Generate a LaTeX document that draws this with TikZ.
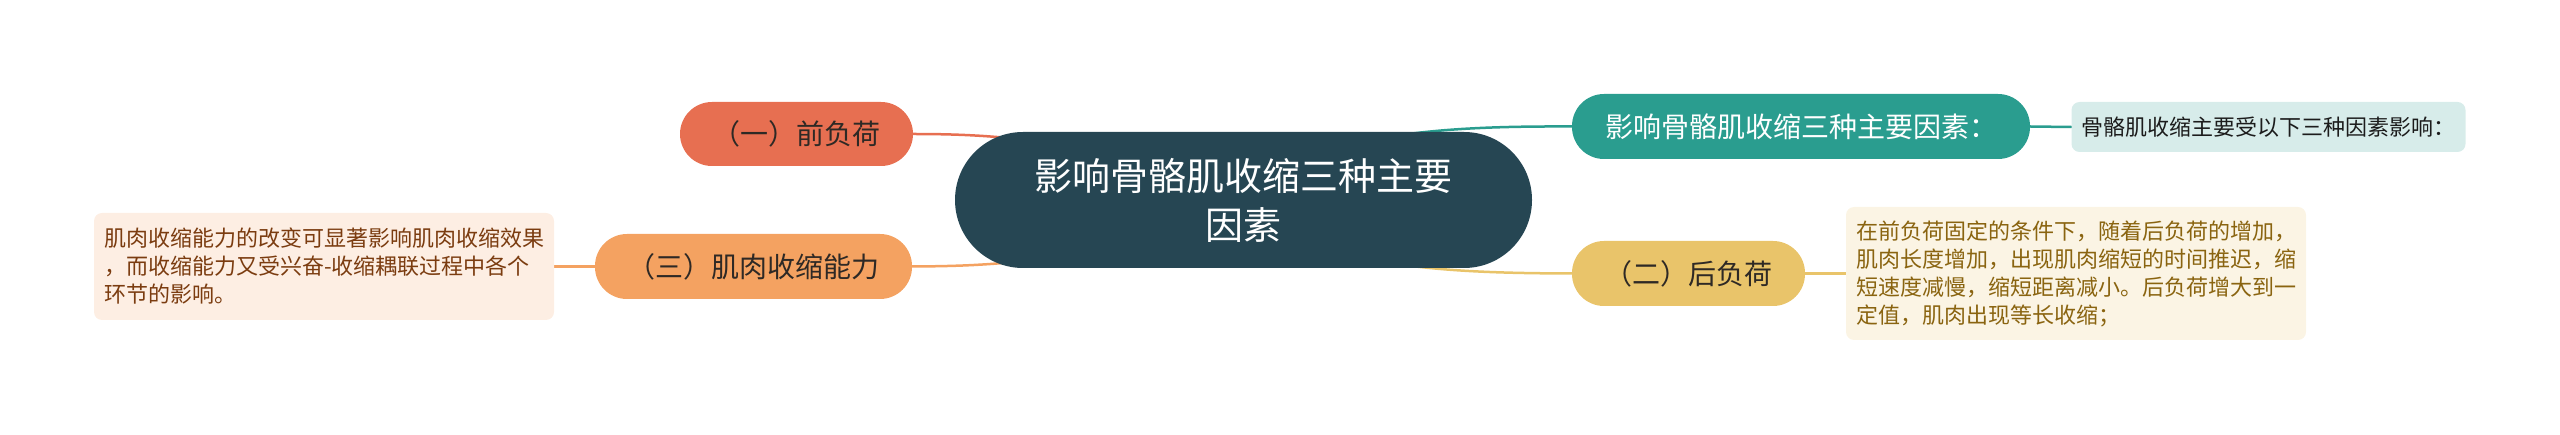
\documentclass[tikz,border=0pt]{standalone}
\usepackage{fontspec}
\newfontfamily\cjk{Noto Sans CJK SC}
\usetikzlibrary{backgrounds}
\definecolor{cmain}{HTML}{264653}
\definecolor{cteal}{HTML}{2A9D8F}
\definecolor{cyel}{HTML}{E9C46A}
\definecolor{corg}{HTML}{F4A261}
\definecolor{cred}{HTML}{E76F51}
\definecolor{ldark}{HTML}{2E2925}
\definecolor{tbrown}{HTML}{7B3C10}
\definecolor{tblack}{HTML}{1C1C1C}
\definecolor{tolive}{HTML}{8A6410}
\tikzset{
	topic/.style={rounded corners=32pt, minimum height=65pt, inner sep=0pt, text=ldark, font=\cjk\fontsize{28}{34}\selectfont},
	leaf/.style={rounded corners=8pt, inner xsep=10pt, inner ysep=0pt, align=left, font=\cjk\fontsize{22}{28}\selectfont},
	link/.style={line width=2.5pt, line cap=round},
}

\begin{document}
\begin{tikzpicture}[x=1pt,y=-1pt]
	\useasboundingbox (0,0) rectangle (2560,435);
	\node[rounded corners=68pt, minimum width=577pt, minimum height=136pt, inner sep=0pt, fill=cmain, text=white, text width=480pt, align=center, font=\cjk\fontsize{38}{49}\selectfont] (main) at (1243.5,200) {影响骨骼肌收缩三种主要\\因素};
	\node[topic, fill=cred, minimum width=233pt, minimum height=64pt] (front) at (796.5,134) {（一）前负荷};
	\node[topic, fill=corg, minimum width=317pt] (power) at (753.5,266.5) {（三）肌肉收缩能力};
	\node[topic, fill=cteal, text=white, minimum width=458pt] (factor) at (1801,126.5) {影响骨骼肌收缩三种主要因素：};
	\node[topic, fill=cyel, minimum width=233pt] (back) at (1688.5,273.5) {（二）后负荷};
	\node[leaf, fill=corg!18, text=tbrown, text width=440pt, minimum height=107pt] (powernote) at (324,266.5) {肌肉收缩能力的改变可显著影响肌肉收缩效果\\，而收缩能力又受兴奋-收缩耦联过程中各个\\环节的影响。};
	\node[leaf, fill=cteal!19, text=tblack, text width=374pt, minimum height=50pt] (factornote) at (2268.5,127) {骨骼肌收缩主要受以下三种因素影响：};
	\node[leaf, fill=cyel!18, text=tolive, text width=440pt, minimum height=133pt] (backnote) at (2076,273.5) {在前负荷固定的条件下，随着后负荷的增加，\\肌肉长度增加，出现肌肉缩短的时间推迟，缩\\短速度减慢，缩短距离减小。后负荷增大到一\\定值，肌肉出现等长收缩；};
	\begin{scope}[on background layer]
		\draw[link, cteal] (main.center) .. controls (1310,131) and (1450,126) .. (factor.west);
		\draw[link, cyel] (main.center) .. controls (1310,269) and (1450,273) .. (back.west);
		\draw[link, cred] (main.center) .. controls (1100,140) and (1000,134) .. (front.east);
		\draw[link, corg] (main.center) .. controls (1100,262) and (1000,266) .. (power.east);
		\draw[link, corg] (power.west) -- (powernote.east);
		\draw[link, cteal] (factor.east) -- (factornote.west);
		\draw[link, cyel] (back.east) -- (backnote.west);
	\end{scope}
\end{tikzpicture}
\end{document}
